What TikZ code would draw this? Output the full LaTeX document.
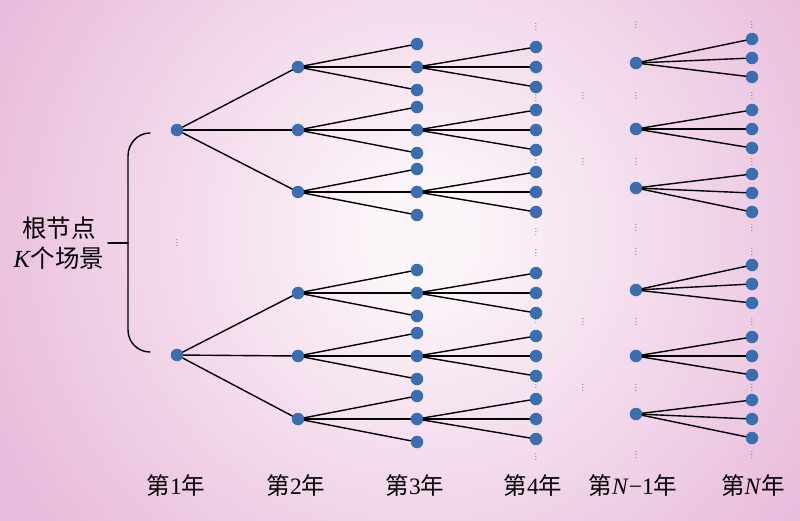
\documentclass[tikz,border=0pt]{standalone}
\usepackage{fontspec}
\setmainfont{Liberation Serif}
\newfontfamily\cjk{Noto Sans CJK SC}
\usepackage{tikz}
\usepackage{xcolor}
\usetikzlibrary{positioning, calc}

\definecolor{nodeblue}{RGB}{58,110,176}
\definecolor{bgpink}{RGB}{232,186,219}
\definecolor{bglight}{RGB}{252,246,250}
\pgfdeclareradialshading{bgglow}{\pgfpoint{0bp}{0bp}}{color(0bp)=(bglight); color(2bp)=(bglight); color(25bp)=(bgpink); color(50bp)=(bgpink)}
\newcommand{\tightvdots}{\vbox{\baselineskip=2.7pt\lineskiplimit=0pt\hbox{.}\hbox{.}\hbox{.}}}

\begin{document}
\begin{tikzpicture}[
    x=1pt, y=-1pt,
    state/.style={circle, fill=nodeblue, minimum size=12.5pt, inner sep=0pt},
    link/.style={draw, line width=1.4pt, line cap=round},
    ell/.style={font=\fontsize{7}{7}\selectfont, inner sep=0pt},
    yearlab/.style={font=\fontsize{23.5}{25}\selectfont},
    rootlab/.style={font=\fontsize{24.5}{30}\selectfont, align=center}
]
    % Background
    \useasboundingbox (0,0) rectangle (800,520);
    \fill[bgpink] (-5,-5) rectangle (805,525);
    \begin{scope}
        \clip (-5,-5) rectangle (805,525);
        \shade[shading=bgglow] (420,235) circle (480pt);
    \end{scope}

    % Year 1
    \node[state] (y1a) at (177,130) {};
    \node[state] (y1b) at (177,355) {};
    \node[ell] (d1) at (177,243) {\tightvdots};

    % Year 2
    \foreach \i/\yy/\p in {1/67/a, 2/130/a, 3/192/a, 4/293/b, 5/356/b, 6/419/b} {
        \node[state] (y2-\i) at (298,\yy) {};
        \draw[link] (y1\p) -- (y2-\i);
    }

    % Year 3 and year 4
    \foreach \i in {1,...,6} {
        \foreach \k/\dy in {1/-23, 2/0, 3/23} {
            \path (y2-\i) ++(119,\dy) node[state] (y3-\i-\k) {};
            \draw[link] (y2-\i) -- (y3-\i-\k);
        }
        \foreach \k/\dy in {1/-20, 2/0, 3/20} {
            \path (y3-\i-2) ++(119,\dy) node[state] (y4-\i-\k) {};
            \draw[link] (y3-\i-2) -- (y4-\i-\k);
        }
    }

    % Year N-1 and year N
    \foreach \i/\yy/\cy in {1/63/58, 2/129/129, 3/188/193, 4/290/284, 5/356/356, 6/414/419} {
        \node[state] (yp-\i) at (636,\yy) {};
        \foreach \k/\dy in {1/-19, 2/0, 3/19} {
            \node[state] (yn-\i-\k) at (752,{\cy+\dy}) {};
            \draw[link] (yp-\i) -- (yn-\i-\k);
        }
    }

    % Dots between the columns
    \foreach \yy in {27,98,160,232,253,320,385,457}
        \node[ell] (d4-\yy) at (536,\yy) {\tightvdots};
    \foreach \yy in {25,96,162,228,252,322,388,455} {
        \node[ell] (dp-\yy) at (636,\yy) {\tightvdots};
        \node[ell] (dn-\yy) at (752,\yy) {\tightvdots};
    }
    \foreach \yy in {96,162,322,388}
        \node[ell] (dm-\yy) at (583,\yy) {\tightvdots};

    % Root label and brace
    \node[rootlab] (root) at (59,243) {{\cjk 根节点}\\\textit{K}{\cjk 个场景}};
    \coordinate (brace-mid) at (128,243);
    \draw[link] (150,133) to[out=180, in=90] (128,156) -- (128,330) to[out=-90, in=180] (150,352);
    \draw[link] (root.east) -- (brace-mid);

    % Year labels
    \node[yearlab] (lab1) at (176,486) {{\cjk 第}1{\cjk 年}};
    \node[yearlab] (lab2) at (296,486) {{\cjk 第}2{\cjk 年}};
    \node[yearlab] (lab3) at (415,486) {{\cjk 第}3{\cjk 年}};
    \node[yearlab] (lab4) at (533,486) {{\cjk 第}4{\cjk 年}};
    \node[yearlab] (labp) at (633,486) {{\cjk 第}\textit{N}−1{\cjk 年}};
    \node[yearlab] (labn) at (753,486) {{\cjk 第}\textit{N}{\cjk 年}};

\end{tikzpicture}
\end{document}
